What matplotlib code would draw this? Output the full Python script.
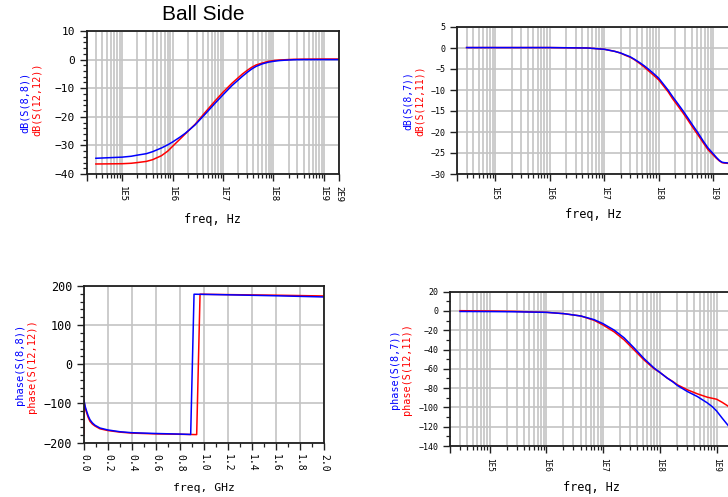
import matplotlib
matplotlib.use("Agg")
import matplotlib.pyplot as plt
from matplotlib.ticker import FixedLocator, MultipleLocator, NullFormatter

# ---------------- data ----------------
# Top-left: dB of return loss (Ball side)
tl_freq = [3e4, 1e5, 1.5e5, 2e5, 3e5, 4e5, 6e5, 8e5, 1e6, 1.4e6, 1.8e6, 2.8e6,
           4.4e6, 7e6, 1e7, 1.5e7, 2.4e7, 3e7, 3.7e7, 4.5e7, 6e7, 8e7, 1e8,
           1.3e8, 1.7e8, 2.5e8, 3.7e8, 1e9, 2e9]
tl_s88 = [-34.5, -34.1, -33.8, -33.4, -32.9, -32.2, -30.9, -29.8, -28.8, -27.1,
          -25.7, -22.8, -19.1, -15.2, -12.3, -9.1, -5.9, -4.5, -3.3, -2.4,
          -1.5, -0.9, -0.6, -0.35, -0.2, -0.05, 0.0, 0.0, 0.0]
tl_s1212 = [-36.5, -36.4, -36.25, -36.0, -35.6, -35.0, -33.6, -32.0, -30.3,
            -27.8, -25.9, -22.6, -18.5, -14.4, -11.4, -8.3, -5.1, -3.8, -2.7,
            -1.9, -1.2, -0.6, -0.35, -0.15, -0.05, 0.1, 0.15, 0.2, 0.2]

# Top-right: dB of transmission
tr_freq = [3e4, 1e5, 1e6, 5e6, 7e6, 1e7, 1.56e7, 2e7, 2.4e7, 3e7, 3.6e7, 4.5e7,
           5.5e7, 7e7, 8.4e7, 1e8, 1.2e8, 1.48e8, 1.8e8, 2.25e8, 2.8e8, 3.44e8,
           4.2e8, 5.24e8, 6.5e8, 8e8, 1e9, 1.15e9, 1.3e9, 1.45e9, 1.6e9, 2e9]
tr_s87 = [0.1, 0.1, 0.1, 0.0, -0.15, -0.3, -0.8, -1.2, -1.6, -2.1, -2.7, -3.5,
          -4.3, -5.4, -6.3, -7.2, -8.5, -10.0, -11.6, -13.3, -15.0, -16.7,
          -18.4, -20.2, -22.1, -23.8, -25.2, -26.1, -26.8, -27.2, -27.3, -27.4]
tr_s1211 = [0.1, 0.1, 0.1, 0.0, -0.15, -0.3, -0.8, -1.2, -1.7, -2.2, -2.8,
            -3.7, -4.6, -5.8, -6.7, -7.6, -8.9, -10.4, -12.1, -13.8, -15.5,
            -17.2, -18.9, -20.7, -22.5, -24.2, -25.5, -26.3, -26.9, -27.3,
            -27.4, -27.5]

# Bottom-left: phase of return loss vs GHz
bl_freq_b = [0.0, 0.01, 0.022, 0.035, 0.05, 0.07, 0.092, 0.133, 0.2, 0.3, 0.4,
             0.6, 0.8, 0.889, 0.917, 1.2, 1.6, 2.0]
bl_s88 = [-92, -108, -120, -132, -142, -150, -156, -163, -168, -172.5, -175,
          -177, -178.5, -179.5, 179, 177.5, 175, 172]
bl_freq_r = [0.0, 0.0005, 0.01, 0.022, 0.035, 0.05, 0.07, 0.092, 0.133, 0.2,
             0.3, 0.4, 0.6, 0.8, 0.939, 0.967, 1.2, 1.6, 2.0]
bl_s1212 = [-178, -97, -112, -124, -136, -146, -153, -158, -165, -169.5,
            -173.5, -176, -178, -179, -179.8, 179, 178, 176.5, 174.5]

# Bottom-right: phase of transmission
br_freq = [3e4, 1e5, 2.7e5, 1e6, 2.06e6, 4.05e6, 6.95e6, 1e7, 1.56e7, 2.34e7,
           3.51e7, 5.26e7, 7.89e7, 1e8, 1.35e8, 1.7e8, 2.03e8, 3.05e8, 4.57e8,
           6.86e8, 8.5e8, 1e9, 1.26e9, 1.54e9, 2e9]
br_s87 = [-0.5, -0.6, -0.8, -1.4, -2.8, -5.2, -9.0, -13.2, -19.8, -27.8, -38.3,
          -49.4, -59.1, -63.7, -69.6, -73.6, -77.2, -83.5, -88.7, -95.3, -99.5,
          -103.7, -111.3, -117.6, -126]
br_s1211 = [0.3, 0.0, -0.4, -1.4, -2.8, -5.2, -9.7, -14.6, -21.6, -29.9, -40.3,
            -50.8, -59.8, -63.7, -69.6, -73.2, -76.5, -81.7, -85.9, -89.4,
            -90.6, -91.5, -94.8, -98.1, -103]

log_ticks = [2e4, 1e5, 1e6, 1e7, 1e8, 1e9, 2e9]
log_labels_left = ["", "1E5", "1E6", "1E7", "1E8", "1E9", "2E9"]
log_labels_right = ["", "1E5", "1E6", "1E7", "1E8", "1E9", ""]

BLUE = "#0000ff"
RED = "#ff0000"
GRID = "#c4c4c4"
MONO = "DejaVu Sans Mono"

W, H = 728, 497
fig = plt.figure(figsize=(W / 100, H / 100), dpi=100)


def ax_at(l, r, t, b):
    return fig.add_axes([l / W, 1 - b / H, (r - l) / W, (b - t) / H])


def style(ax, ysize, xsize):
    for s in ax.spines.values():
        s.set_linewidth(1.3)
        s.set_color("#202020")
    ax.tick_params(which="major", direction="out", length=5, width=1.0,
                   color="#202020")
    ax.tick_params(which="minor", direction="out", length=3, width=0.9,
                   color="#202020")
    for lab in ax.get_yticklabels():
        lab.set_fontfamily(MONO)
        lab.set_fontsize(ysize)
    for lab in ax.get_xticklabels():
        lab.set_fontfamily(MONO)
        lab.set_fontsize(xsize)
        lab.set_rotation(270)
        lab.set_va("top")
        lab.set_ha("center")


def log_x(ax, labels):
    ax.set_xscale("log")
    ax.set_xlim(2e4, 2e9)
    ax.xaxis.set_major_locator(FixedLocator(log_ticks))
    ax.set_xticklabels(labels)
    ax.xaxis.set_minor_locator(FixedLocator(
        [m * 10 ** e for e in range(4, 10) for m in range(1, 10)
         if 2e4 <= m * 10 ** e <= 2e9]))
    ax.xaxis.set_minor_formatter(NullFormatter())
    ax.tick_params(axis="x", which="minor", length=0)
    ax.grid(True, axis="x", which="both", color=GRID, lw=1.2)
    ax.grid(True, axis="y", which="major", color=GRID, lw=1.2)
    ax.set_axisbelow(True)


def ylab(xb, yb, tb, xr, yr, tr, size):
    fig.text(xb / W, 1 - yb / H, tb, color=BLUE, rotation=90, ha="center",
             va="center", family=MONO, fontsize=size)
    fig.text(xr / W, 1 - yr / H, tr, color=RED, rotation=90, ha="center",
             va="center", family=MONO, fontsize=size)


def minus(v):
    return f"{v}".replace("-", "\u2212")


# ---------- top-left ----------
ax1 = ax_at(87, 339, 31, 174)
log_x(ax1, log_labels_left)
ax1.plot(tl_freq, tl_s1212, color=RED, lw=1.1)
ax1.plot(tl_freq, tl_s88, color=BLUE, lw=1.1)
tl_yt = [10, 0, -10, -20, -30, -40]
ax1.set_yticks(tl_yt)
ax1.set_yticklabels([minus(v) for v in tl_yt])
ax1.yaxis.set_minor_locator(MultipleLocator(2))
ax1.set_ylim(-40, 10)
style(ax1, 8, 6.5)
ax1.set_xlabel("freq, Hz", family=MONO, fontsize=8.5, labelpad=8)
fig.text(203 / W, 1 - 15 / H, "Ball Side", family="Liberation Sans",
         fontsize=15, ha="center", va="center")
ylab(25, 102, "dB(S(8,8))", 37, 99, "dB(S(12,12))", 7.3)

# ---------- top-right ----------
ax2 = ax_at(457, 729.7, 27, 174)
log_x(ax2, log_labels_right)
ax2.plot(tr_freq, tr_s1211, color=RED, lw=1.1)
ax2.plot(tr_freq, tr_s87, color=BLUE, lw=1.1)
tr_yt = [5, 0, -5, -10, -15, -20, -25, -30]
ax2.set_yticks(tr_yt)
ax2.set_yticklabels([minus(v) for v in tr_yt])
ax2.set_ylim(-30, 5)
style(ax2, 6, 5.5)
ax2.set_xlabel("freq, Hz", family=MONO, fontsize=8.5, labelpad=6)
ylab(408, 101, "dB(S(8,7))", 420, 101, "dB(S(12,11))", 7.0)

# ---------- bottom-left ----------
ax3 = ax_at(84, 324, 286, 442.5)
ax3.plot(bl_freq_r, bl_s1212, color=RED, lw=1.1)
ax3.plot(bl_freq_b, bl_s88, color=BLUE, lw=1.1)
ax3.set_xlim(0, 2.0)
ax3.set_ylim(-200, 200)
bl_xt = [0.0, 0.2, 0.4, 0.6, 0.8, 1.0, 1.2, 1.4, 1.6, 1.8, 2.0]
ax3.set_xticks(bl_xt)
ax3.set_xticklabels([f"{v:.1f}" for v in bl_xt])
ax3.xaxis.set_minor_locator(MultipleLocator(0.1))
bl_yt = [200, 100, 0, -100, -200]
ax3.set_yticks(bl_yt)
ax3.set_yticklabels([minus(v) for v in bl_yt])
ax3.yaxis.set_minor_locator(MultipleLocator(20))
ax3.grid(True, which="major", color=GRID, lw=1.2)
ax3.set_axisbelow(True)
style(ax3, 8.5, 7)
ax3.set_xlabel("freq, GHz", family=MONO, fontsize=8.2, labelpad=8)
ylab(20, 364, "phase(S(8,8))", 32, 366, "phase(S(12,12))", 7.5)

# ---------- bottom-right ----------
ax4 = ax_at(450, 733.7, 291.7, 446)
log_x(ax4, log_labels_right)
ax4.plot(br_freq, br_s1211, color=RED, lw=1.1)
ax4.plot(br_freq, br_s87, color=BLUE, lw=1.1)
br_yt = [20, 0, -20, -40, -60, -80, -100, -120, -140]
ax4.set_yticks(br_yt)
ax4.set_yticklabels([minus(v) for v in br_yt])
ax4.yaxis.set_minor_locator(MultipleLocator(10))
ax4.set_ylim(-140, 20)
style(ax4, 6, 5.5)
ax4.set_xlabel("freq, Hz", family=MONO, fontsize=8.5, labelpad=7)
ylab(395, 369, "phase(S(8,7))", 407, 369, "phase(S(12,11))", 7.3)

fig.savefig("out.png", dpi=100)
